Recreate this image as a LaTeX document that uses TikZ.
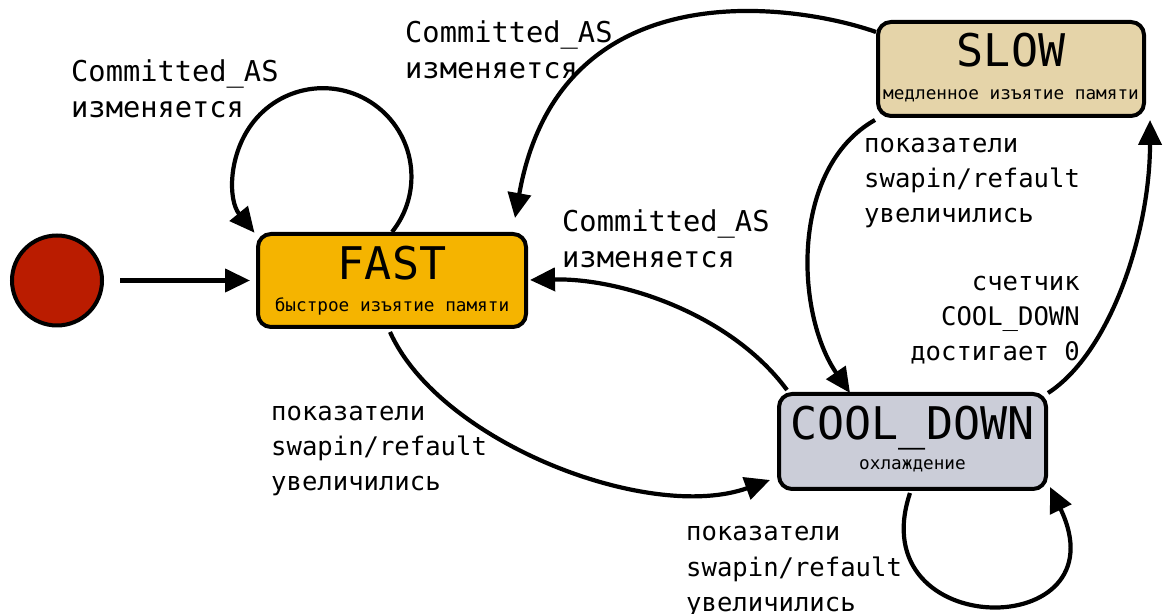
\documentclass[tikz,border=0pt]{standalone}
\usepackage{fontspec}
\setmainfont{DejaVu Sans Mono}
\usetikzlibrary{arrows.meta,calc}
\definecolor{fastfill}{RGB}{245,180,0}
\definecolor{slowfill}{RGB}{229,212,169}
\definecolor{coolfill}{RGB}{203,205,216}
\definecolor{initfill}{RGB}{186,28,0}
\begin{document}
\begin{tikzpicture}[x=1pt,y=1pt,
  state/.style={draw=black, line width=4pt, rounded corners=13pt, inner sep=0pt},
  edge/.style={line width=4.2pt, -{Triangle[length=25pt,width=23pt]}},
  lbl/.style={inner sep=0pt, align=left, font=\fontsize{28.7}{35.5}\selectfont},
  lblsm/.style={inner sep=0pt, align=left, font=\fontsize{25.6}{35}\selectfont},
  stitle/.style={inner sep=0pt, font=\fontsize{45}{50}\selectfont},
  ssub/.style={inner sep=0pt, font=\fontsize{17.7}{20}\selectfont}]
\useasboundingbox (0,0) rectangle (1164,613);

% states
\node[circle, draw=black, line width=4pt, fill=initfill, minimum size=90pt, inner sep=0pt] (init) at (57,332.5) {};
\node[state, fill=fastfill, minimum width=268pt, minimum height=93pt] (fast) at (392,332.5) {};
\node[state, fill=slowfill, minimum width=266pt, minimum height=94pt] (slow) at (1011,544) {};
\node[state, fill=coolfill, minimum width=267pt, minimum height=95pt] (cool) at (912.5,171.5) {};

\node[stitle, anchor=base] (fast-title) at (392,333) {FAST};
\node[ssub, anchor=base] (fast-sub) at (392,301) {быстрое изъятие памяти};
\node[stitle, anchor=base] (slow-title) at (1011,546) {SLOW};
\node[ssub, anchor=base] (slow-sub) at (1011,513) {медленное изъятие памяти};
\node[stitle, anchor=base] (cool-title) at (912.5,173) {COOL\_DOWN};
\node[ssub, anchor=base] (cool-sub) at (912.5,143) {охлаждение};

% transitions
\draw[edge] ($(init.east)+(16,0)$) -- ($(fast.west)+(-6,0)$);

\draw[edge] (fast.north) arc[start angle=-38.7, end angle=219.3, radius=88.5];

\draw[edge] ($(slow.west)+(0,37)$) .. controls (800,608) and (560,648) .. ($(fast.north)+(123,14)$);

\draw[edge] ($(cool.north west)+(10,2)$) .. controls (730,300) and (620,335) .. ($(fast.east)+(2,0.5)$);

\draw[edge] ($(fast.south)+(-2,-3)$) .. controls (440,170) and (650,90) .. ($(cool.west)+(-7,-38.5)$);

\draw[edge] ($(slow.south west)+(-1,-2)$) .. controls (790,445) and (795,300) .. ($(cool.north)+(-62.5,-1)$);

\draw[edge] ($(cool.north east)+(0,-1)$) .. controls (1110,260) and (1150,380) .. ($(slow.south east)+(4,-2)$);

\draw[edge] ($(cool.south)+(-2.5,-2)$) .. controls (860,-30) and (1125,-30) .. ($(cool.south east)+(2,4)$);

% transition labels (anchored at the baseline of their last line)
\node[lbl, anchor=base west] (lab-fast-loop) at (71,495.5) {Committed\_AS\\изменяется};
\node[lbl, anchor=base west] (lab-slow-fast) at (405,534.5) {Committed\_AS\\изменяется};
\node[lbl, anchor=base west] (lab-cool-fast) at (562,345.5) {Committed\_AS\\изменяется};
\node[lblsm, anchor=base west] (lab-fast-cool) at (271,122) {показатели\\swapin/refault\\увеличились};
\node[lblsm, anchor=base west] (lab-slow-cool) at (864,390) {показатели\\swapin/refault\\увеличились};
\node[lblsm, align=right, anchor=base east] (lab-cool-slow) at (1080,252) {счетчик\\COOL\_DOWN\\достигает 0};
\node[lblsm, anchor=base west] (lab-cool-loop) at (686,2) {показатели\\swapin/refault\\увеличились};
\end{tikzpicture}
\end{document}
